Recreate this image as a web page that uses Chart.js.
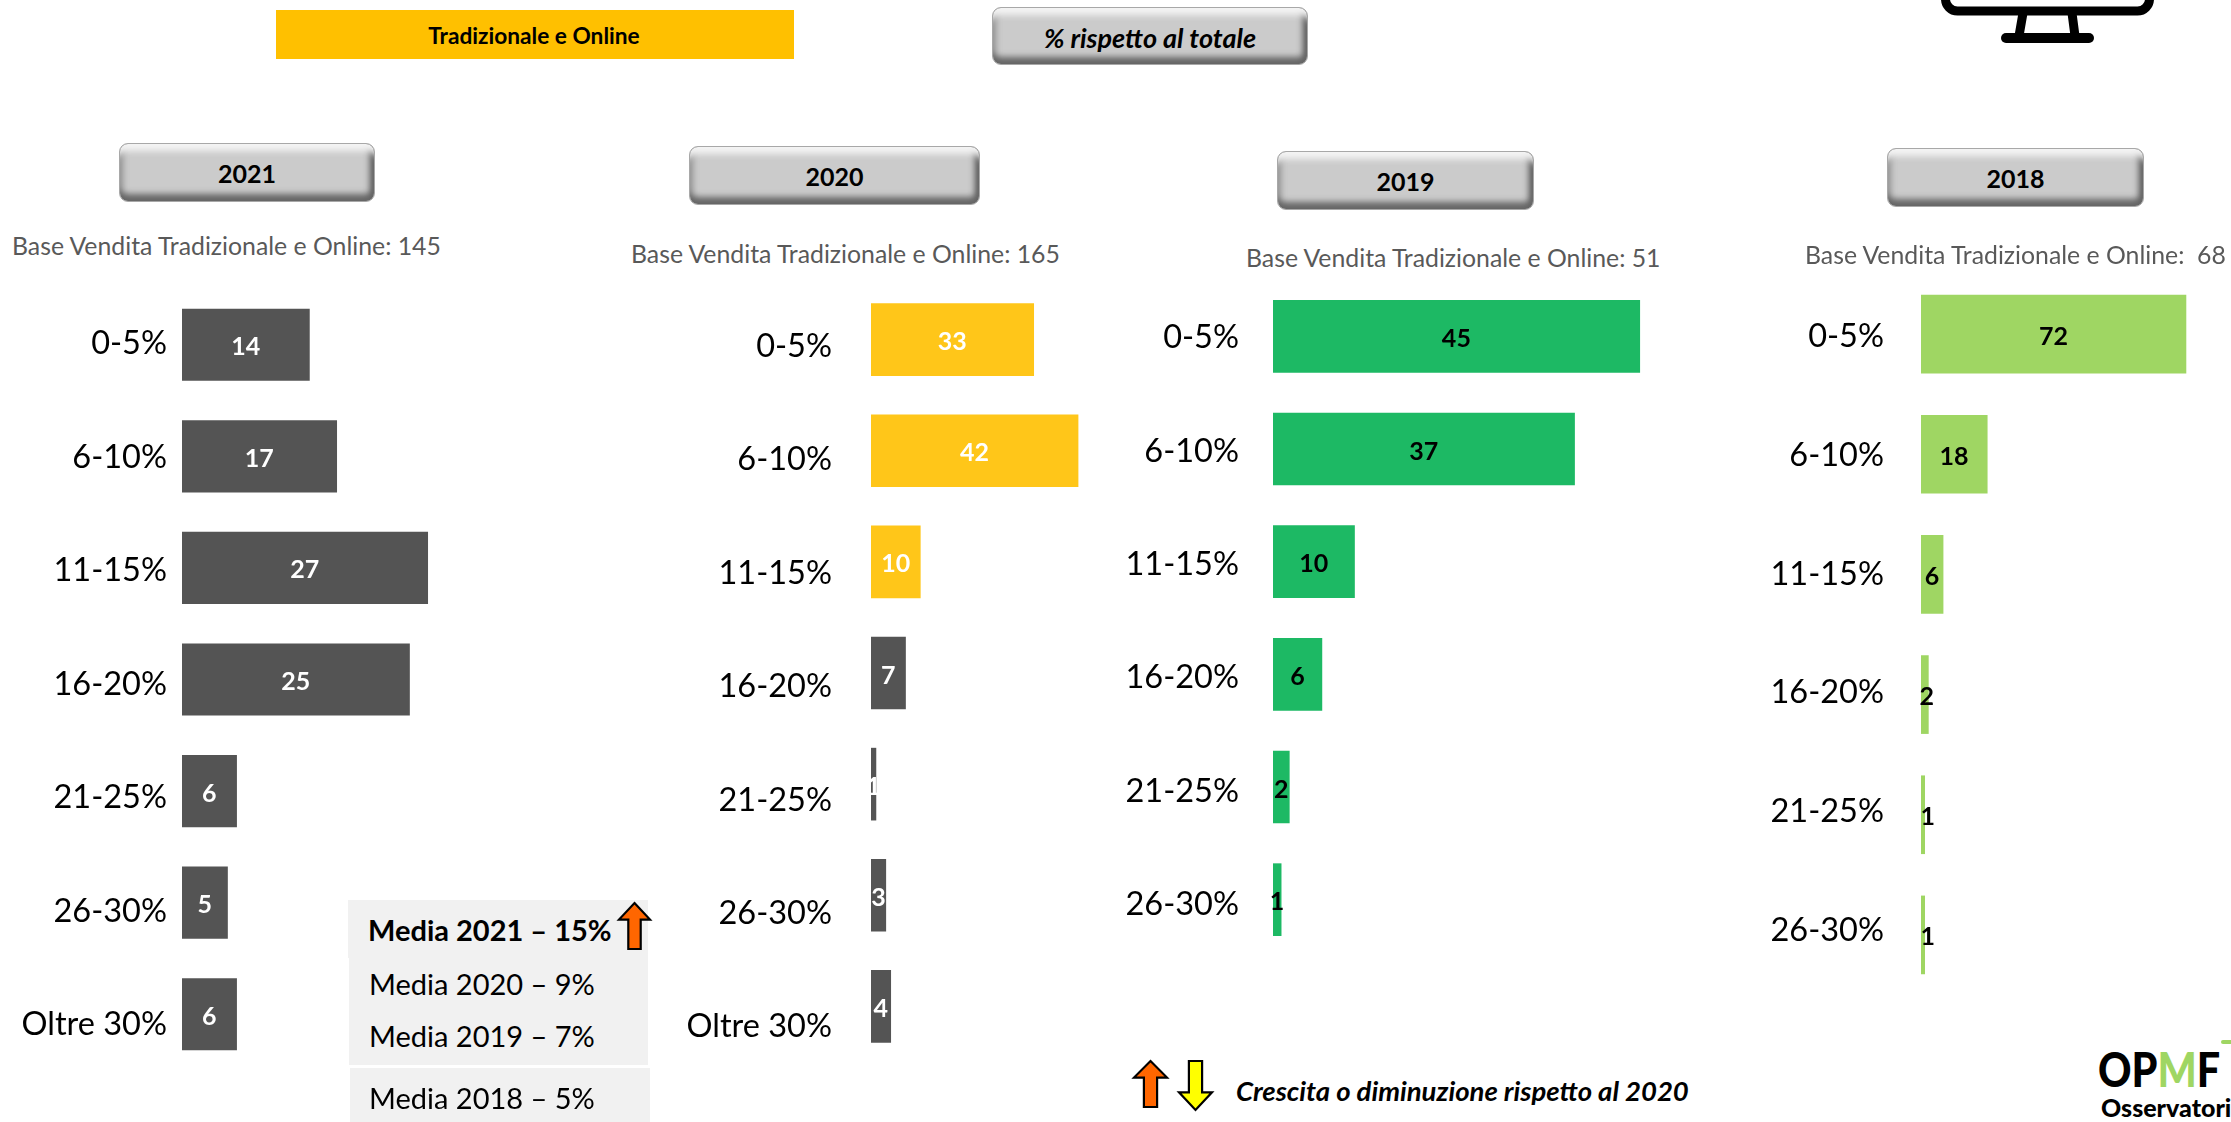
<!DOCTYPE html>
<html lang="it">
<head>
<meta charset="utf-8">
<title>Tradizionale e Online</title>
<script src="https://cdn.jsdelivr.net/npm/chart.js@4"></script>
<style>
html,body{margin:0;padding:0;background:#fff;}
body{width:2231px;height:1122px;position:relative;overflow:hidden;font-family:Lato,sans-serif;color:#000;}
canvas{position:absolute;}
.t{position:absolute;white-space:nowrap;line-height:1;transform:translateY(-50%);}
.c{transform:translate(-50%,-50%);}
.base{font-size:24.8px;color:#595959;}
.media{font-size:29px;}
.box{position:absolute;background:#F1F1F1;}
.btn{position:absolute;box-sizing:border-box;background:#CBCBCB;border-radius:9px;border:1px solid #a8a8a8;
 box-shadow:inset 0 12px 6px -5px #f4f4f4,inset 0 -12px 6px -5px #666,inset -9px 0 6px -5px #555,inset 8px 0 6px -5px #929292;}
svg{position:absolute;overflow:visible;}
</style>
</head>
<body>
<script>
const categories7 = ["0-5%","6-10%","11-15%","16-20%","21-25%","26-30%","Oltre 30%"];
const categories6 = ["0-5%","6-10%","11-15%","16-20%","21-25%","26-30%"];
const values2021 = [14,17,27,25,6,5,6];
const values2020 = [33,42,10,7,1,3,4];
const values2019 = [45,37,10,6,2,1];
const values2018 = [72,18,6,2,1,1];
const colors2021 = ["#545454","#545454","#545454","#545454","#545454","#545454","#545454"];
const colors2020 = ["#FFC619","#FFC619","#FFC619","#545454","#545454","#545454","#545454"];
const colors2019 = "#1DB964";
const colors2018 = "#9FD663";
const labelColors2021 = "#fff";
const labelColors2020 = "#fff";
const labelColors2019 = "#000";
const labelColors2018 = "#000";

const FONT = "Lato";

/* panel layout */
const panels = [
 {cats:categories7,vals:values2021,col:colors2021,lab:labelColors2021,barLeft:182,pxPerUnit:9.1,first:344.3,step:111.5,barH:71.5,gap:15,labFirst:344,labStep:113.5,nudge:()=>0},
 {cats:categories7,vals:values2020,col:colors2020,lab:labelColors2020,barLeft:871,pxPerUnit:4.93,first:339.3,step:111.2,barH:72,gap:39,labFirst:346.5,labStep:113.4,nudge:()=>0},
 {cats:categories6,vals:values2019,col:colors2019,lab:labelColors2019,barLeft:1273,pxPerUnit:8.15,first:336,step:112.7,barH:72,gap:34,labFirst:338,labStep:113.3,nudge:()=>0},
 {cats:categories6,vals:values2018,col:colors2018,lab:labelColors2018,barLeft:1921,pxPerUnit:3.68,first:334.5,step:120.2,barH:78,gap:37,labFirst:336.8,labStep:118.7,nudge:(v)=>v<=2?(v==1?5:2):0}
];

const valueLabels = {
 id:"valueLabels",
 afterDatasetsDraw(chart,args,opts){
  const ctx=chart.ctx, meta=chart.getDatasetMeta(0);
  ctx.save();
  ctx.font="bold 25px "+FONT; ctx.textAlign="center"; ctx.textBaseline="middle"; ctx.fillStyle=opts.color;
  meta.data.forEach((bar,i)=>{
    const v=chart.data.datasets[0].data[i];
    ctx.fillText(String(v),(bar.base+bar.x)/2+opts.nudge(v),bar.y+2.5);
  });
  ctx.restore();
 }
};
const shiftTicks = {
 id:"shiftTicks",
 beforeDraw(chart,args,opts){
  const s=chart.scales.y;
  s.getLabelItems().forEach((it,i)=>{ it.options.translation[1]=opts.first+i*opts.step; });
 }
};

panels.forEach(p=>{
  const top=Math.round(p.first-p.step/2);
  const h=p.cats.length*p.step;
  const left = p===panels[0]?0:p.barLeft-300;
  const cv=document.createElement("canvas");
  cv.style.left=left+"px"; cv.style.top=top+"px";
  const cw = p===panels[3]?2231-left:720, ch=Math.round(h);
  cv.width=cw; cv.height=ch; cv.style.width=cw+"px"; cv.style.height=ch+"px";
  document.body.appendChild(cv);
  const axisW=p.barLeft-left, areaW=cw-axisW;
  new Chart(cv,{
    type:"bar",
    data:{labels:p.cats,datasets:[{data:p.vals,backgroundColor:p.col,borderWidth:0,
      barThickness:p.barH}]},
    plugins:[valueLabels,shiftTicks],
    options:{
      indexAxis:"y",responsive:false,animation:false,
      layout:{padding:0},
      scales:{
        x:{display:false,min:0,max:areaW/p.pxPerUnit},
        y:{
          grid:{display:false,drawTicks:false},border:{display:false},
          afterFit(s){s.width=axisW;s.paddingTop=0;s.paddingBottom=0;},
          ticks:{color:"#000",font:{family:FONT,size:32.5},padding:p.gap,autoSkip:false}
        }
      },
      plugins:{legend:{display:false},tooltip:{enabled:false},title:{display:false},
        valueLabels:{color:p.lab,nudge:p.nudge},
        shiftTicks:{first:p.labFirst-top,step:p.labStep}}
    }
  });
});

function el(cls,css,html){const d=document.createElement("div");d.className=cls;d.style.cssText=css;if(html!=null)d.innerHTML=html;document.body.appendChild(d);return d;}
/* header */
el("box","left:276px;top:10px;width:518px;height:49px;background:#FFC000;");
el("t c","left:534px;top:36px;font-size:22.7px;font-weight:700;","Tradizionale e Online");
el("btn","left:992px;top:7px;width:316px;height:58px;");
el("t c","left:1150px;top:37px;font-size:27px;font-weight:700;font-style:italic;","% rispetto al totale");
[["2021",119,143,256,59],["2020",689,146,291,59],["2019",1277,151,257,59],["2018",1887,148,257,59]].forEach(b=>{
  el("btn",`left:${b[1]}px;top:${b[2]}px;width:${b[3]}px;height:${b[4]}px;`);
  el("t c",`left:${b[1]+b[3]/2}px;top:${b[2]+30}px;font-size:25px;font-weight:700;`,b[0]);
});
[["Base Vendita Tradizionale e Online: 145",12,246],["Base Vendita Tradizionale e Online: 165",631,254],["Base Vendita Tradizionale e Online: 51",1246,258],["Base Vendita Tradizionale e Online:&nbsp; 68",1805,255]].forEach(b=>{
  el("t base",`left:${b[1]}px;top:${b[2]}px;`,b[0]);
});
/* media box */
el("box","left:348px;top:900px;width:300px;height:58px;");
el("box","left:349px;top:958px;width:299px;height:107px;");
el("box","left:350px;top:1068px;width:300px;height:54px;");
el("t media","left:368px;top:929px;font-weight:700;","Media 2021 – 15%");
el("t media","left:369px;top:983px;","Media 2020 – 9%");
el("t media","left:369px;top:1035px;","Media 2019 – 7%");
el("t media","left:369px;top:1097px;","Media 2018 – 5%");
el("t","left:1236px;top:1091px;font-size:27.5px;font-weight:700;font-style:italic;","Crescita o diminuzione rispetto al 2020");
/* logo */
el("t","left:2098px;top:1069px;font-size:47px;font-weight:900;transform-origin:0 50%;transform:translateY(-50%) scaleX(.88);",'OP<span style="color:#9FD663">M</span>F');
el("t","left:2101px;top:1107px;font-size:25px;font-weight:900;","Osservatori");
el("box","left:2221px;top:1040px;width:10px;height:4px;background:#9FD663;border-radius:2px 0 0 2px;");

function arrow(x,y,w,h,fill,down){
  const sh=w*0.3, hd=h*0.36;
  const pts=down
   ?[[sh,0],[w-sh,0],[w-sh,h-hd],[w,h-hd],[w/2,h],[0,h-hd],[sh,h-hd]]
   :[[w/2,0],[w,hd],[w-sh,hd],[w-sh,h],[sh,h],[sh,hd],[0,hd]];
  document.body.insertAdjacentHTML("beforeend",`<svg style="left:${x}px;top:${y}px" width="${w}" height="${h}"><polygon points="${pts.map(p=>p.join(",")).join(" ")}" fill="${fill}" stroke="#000" stroke-width="2.2"/></svg>`);
}
arrow(619,903,31,46,"#FF6600",false);
arrow(1134,1061,33,46,"#FF6600",false);
arrow(1179,1061,33,49,"#FFFF00",true);
/* monitor icon */
document.body.insertAdjacentHTML("beforeend",`<svg style="left:0;top:0" width="2231" height="60">
<rect x="1945.5" y="-40" width="204" height="51" rx="12" fill="none" stroke="#000" stroke-width="9"/>
<path d="M2023 13 L2019 36 M2072 13 L2075 36" stroke="#000" stroke-width="9" fill="none"/>
<line x1="2006" y1="38" x2="2089" y2="38" stroke="#000" stroke-width="10" stroke-linecap="round"/></svg>`);
</script>
</body>
</html>
